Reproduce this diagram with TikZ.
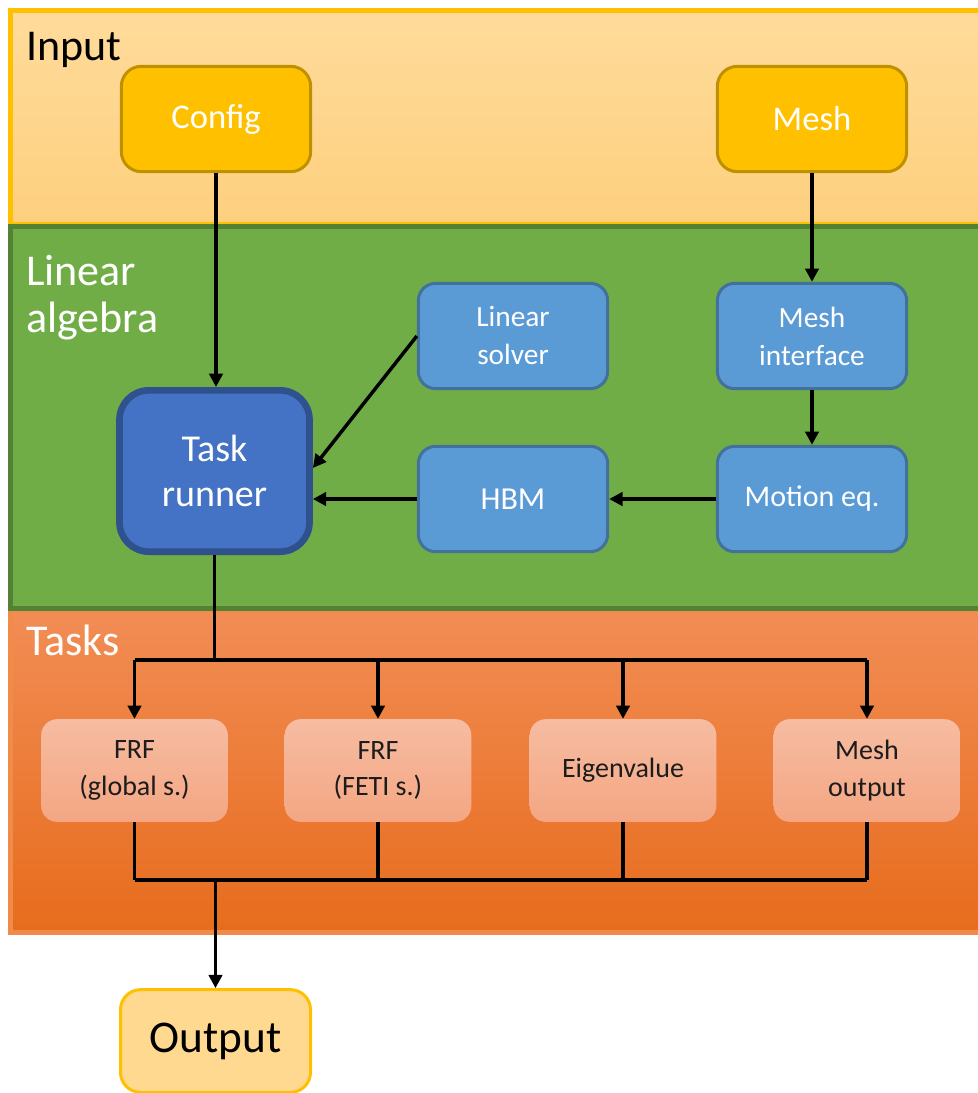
\documentclass[tikz,border=0pt]{standalone}
\usepackage{fontspec}
\setmainfont{Carlito}
\usetikzlibrary{arrows.meta,calc}
\definecolor{inTop}{HTML}{FFDB9B}
\definecolor{inBot}{HTML}{FDD07E}
\definecolor{inEdge}{HTML}{FFC000}
\definecolor{gold}{HTML}{FFC000}
\definecolor{goldEdge}{HTML}{BF9000}
\definecolor{grn}{HTML}{70AD47}
\definecolor{grnEdge}{HTML}{548235}
\definecolor{orTop}{HTML}{F28D55}
\definecolor{orBot}{HTML}{E76C1D}
\definecolor{orEdge}{HTML}{F08B4A}
\definecolor{lblue}{HTML}{5B9BD5}
\definecolor{lblueEdge}{HTML}{41719C}
\definecolor{dblue}{HTML}{4472C4}
\definecolor{dblueEdge}{HTML}{2F528F}
\definecolor{tkTop}{HTML}{F6BCA1}
\definecolor{tkBot}{HTML}{F4A683}
\definecolor{outFill}{HTML}{FFD98F}
\definecolor{darktext}{HTML}{1C1C1C}
\begin{document}
\begin{tikzpicture}[x=0.75pt,y=-0.75pt,
  bandlabel/.style={font=\fontsize{33}{35}\selectfont, inner sep=0, anchor=base west, align=left},
  inbox/.style={rounded corners=15pt, fill=gold, draw=goldEdge, line width=2.25pt,
     minimum width=142pt, minimum height=79pt, inner sep=0, text=white,
     font=\fontsize{26}{30}\selectfont, align=center},
  lbox/.style={rounded corners=13pt, fill=lblue, draw=lblueEdge, line width=2.25pt,
     minimum width=142pt, minimum height=79pt, inner sep=0, text=white,
     font=\fontsize{22}{28.5}\selectfont, align=center},
  runbox/.style={rounded corners=22pt, fill=dblue, draw=dblueEdge, line width=5pt,
     minimum width=142.5pt, minimum height=121pt, inner sep=0, text=white,
     font=\fontsize{28.5}{34}\selectfont, align=center},
  tkbox/.style={rounded corners=12pt, top color=tkTop, bottom color=tkBot, draw=none,
     minimum width=140pt, minimum height=77pt, inner sep=0, text=darktext,
     font=\fontsize{21}{27.5}\selectfont, align=center},
  outbox/.style={rounded corners=15pt, fill=outFill, draw=inEdge, line width=2.25pt,
     minimum width=142.5pt, minimum height=77pt, inner sep=0, text=black,
     font=\fontsize{34}{38}\selectfont, align=center},
  arr/.style={line width=2.6pt, -{Triangle[length=10pt,width=10pt]}},
  wire/.style={line width=2.6pt}
]
\useasboundingbox (0,0) rectangle (978,1093);
% bands
\path[top color=inTop, bottom color=inBot, draw=inEdge, line width=3.75pt]
  (10.5,10) rectangle (1000,224);
\path[top color=orTop, bottom color=orBot, draw=orEdge, line width=3.75pt]
  (10.5,610) rectangle (1000,932);
\path[fill=grn, draw=grnEdge, line width=3.75pt]
  (10.5,226) rectangle (1000,608);
% band labels
\node[bandlabel, text=black] (lin) at (26,60) {Input};
\node[bandlabel, text=white] (lla) at (26,332) {Linear\\algebra};
\node[bandlabel, text=white] (lta) at (26,655) {Tasks};
% nodes
\node[inbox] (cfg) at (216,119) {Config};
\node[inbox] (msh) at (812,119) {Mesh};
\node[lbox] (ls) at (513,336) {Linear\\solver};
\node[lbox] (mi) at (812,336) {Mesh\\interface};
\node[lbox, font=\fontsize{24}{28}\selectfont] (hbm) at (513,499) {HBM};
\node[lbox, font=\fontsize{22.5}{28}\selectfont] (me) at (812,499) {Motion eq.};
\node[runbox] (tr) at (214.5,471) {Task\\runner};
\node[tkbox] (t1) at (134.5,770.5) {FRF\\(global s.)};
\node[tkbox] (t2) at (378,770.5) {FRF\\(FETI s.)};
\node[tkbox] (t3) at (623,770.5) {Eigenvalue};
\node[tkbox] (t4) at (867,770.5) {Mesh\\output};
\node[outbox] (out) at (215.5,1041) {Output};
\coordinate (busTop) at (0,660);
\coordinate (busBot) at (0,880);
% connectors
\draw[arr] (cfg.south) -- (cfg.south |- tr.north);
\draw[arr] (msh.south) -- (mi.north);
\draw[arr] (mi.south) -- (me.north);
\draw[arr] (me.west) -- (hbm.east);
\draw[arr] (hbm.west) -- (hbm.west -| tr.east);
\draw[arr] (ls.west) -- ($(tr.east)+(0,-3)$);
\draw[wire] (tr.south) -- (tr.south |- busTop);
\draw[wire] (t1.north |- busTop) -- (t4.north |- busTop);
\foreach \t in {t1,t2,t3,t4}{
  \draw[arr] (\t.north |- busTop) -- (\t.north);
  \draw[wire] (\t.south) -- (\t.south |- busBot);
}
\draw[wire] (t1.south |- busBot) -- (t4.south |- busBot);
\draw[arr] (out.north |- busBot) -- (out.north);
\end{tikzpicture}
\end{document}
